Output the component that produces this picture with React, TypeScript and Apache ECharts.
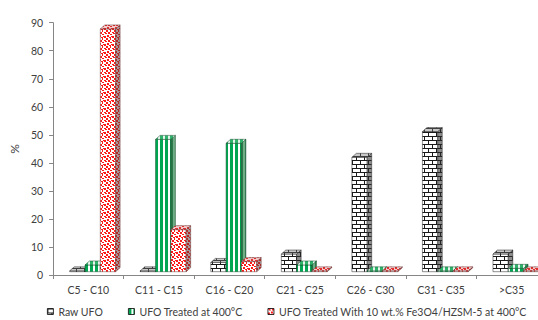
import React, { useEffect, useRef } from "react";
import * as echarts from "echarts";

// Carbon-number fractions (%)
const categories = ["C5 - C10", "C11 - C15", "C16 - C20", "C21 - C25", "C26 - C30", "C31 - C35", ">C35"];
const rawUfo = [0.3, 0.3, 3.3, 6.3, 40.8, 50.0, 6.3];
const ufo400 = [2.4, 47.2, 45.8, 2.4, 0.3, 0.3, 1.2];
const ufoFe3O4 = [86.6, 15.0, 3.6, 0.3, 0.3, 0.3, 0.3];
const seriesNames = [
  "Raw UFO",
  "UFO Treated at 400°C",
  "UFO Treated With 10 wt.% Fe3O4/HZSM-5 at 400°C",
];
const yMin = 0;
const yMax = 90;
const yStep = 10;

const FONT = "Lato, 'Liberation Sans', sans-serif";
const TEXT = "#404040";
const AXIS = "#868686";

type Tile = { image: HTMLCanvasElement; repeat: "repeat"; imageWidth: number; imageHeight: number };

function tile(w: number, h: number, draw: (c: CanvasRenderingContext2D) => void): Tile {
  const cv = document.createElement("canvas");
  cv.width = w;
  cv.height = h;
  const ctx = cv.getContext("2d") as CanvasRenderingContext2D;
  draw(ctx);
  return { image: cv, repeat: "repeat", imageWidth: w, imageHeight: h };
}

function brick(bg: string, line: string) {
  return tile(8, 8, (c) => {
    c.fillStyle = bg;
    c.fillRect(0, 0, 8, 8);
    c.fillStyle = line;
    c.fillRect(0, 0, 8, 1);
    c.fillRect(0, 4, 8, 1);
    c.fillRect(0, 0, 1, 4);
    c.fillRect(4, 4, 1, 4);
  });
}

function stripes(main: string, light: string) {
  return tile(5, 2, (c) => {
    c.fillStyle = main;
    c.fillRect(0, 0, 5, 2);
    c.fillStyle = light;
    c.fillRect(3, 0, 2, 2);
  });
}

// Blotchy dot fill
const dotCells: [number, number, number, number][] = [
  [0, 0, 2, 1], [1, 1, 2, 1], [4, 0, 2, 2], [6, 2, 2, 1], [3, 3, 2, 2],
  [0, 4, 2, 2], [5, 5, 2, 1], [6, 6, 1, 2], [2, 6, 2, 2], [7, 4, 1, 1],
];
function dots(bg: string, fg: string) {
  return tile(8, 8, (c) => {
    c.fillStyle = bg;
    c.fillRect(0, 0, 8, 8);
    c.fillStyle = fg;
    dotCells.forEach(([x, y, w, h]) => c.fillRect(x, y, w, h));
  });
}

export default function App() {
  const ref = useRef<HTMLDivElement>(null);

  useEffect(() => {
    if (!ref.current) return;
    const chart = echarts.init(ref.current, null, { renderer: "svg" });

    const faces = [
      {
        front: brick("#ffffff", "#1a1a1a"),
        side: brick("#8c8c8c", "#262626"),
        top: brick("#c8c8c8", "#404040"),
        edge: "#222222",
      },
      {
        front: stripes("#00a651", "#ffffff"),
        side: stripes("#2f7a4c", "#6fae86"),
        top: stripes("#2fb36a", "#e6f5ec"),
        edge: "#124a2a",
      },
      {
        front: dots("#ffffff", "#ff1a1a"),
        side: dots("#a89a9a", "#b02a2a"),
        top: dots("#f3c9c9", "#e03030"),
        edge: "#6a3a3a",
      },
    ];
    const values = [rawUfo, ufo400, ufoFe3O4];

    const BW = 15.3; // front face width
    const DX = 4.5; // depth offset, right
    const DY = 4; // depth offset, up
    const SHIFT_X = 4.3;
    const SHIFT_Y = 3.3;

    const makeRender = (si: number) => (params: any, api: any) => {
      const idx = api.value(0);
      const v = api.value(1);
      const base = api.coord([idx, 0]);
      const top = api.coord([idx, v]);
      const cx = base[0];
      const x = cx - 1.5 * BW + SHIFT_X + si * BW;
      const yb = base[1] - SHIFT_Y;
      const yt = top[1] - SHIFT_Y;
      const f = faces[si];
      const stroke = { stroke: f.edge, lineWidth: 0.5 };
      return {
        type: "group",
        children: [
          {
            type: "rect",
            shape: { x, y: yt, width: BW, height: yb - yt },
            style: { fill: f.front, ...stroke },
          },
          {
            type: "polygon",
            shape: {
              points: [
                [x + BW, yt],
                [x + BW + DX, yt - DY],
                [x + BW + DX, yb - DY],
                [x + BW, yb],
              ],
            },
            style: { fill: f.side, ...stroke },
          },
          {
            type: "polygon",
            shape: {
              points: [
                [x, yt],
                [x + DX, yt - DY],
                [x + BW + DX, yt - DY],
                [x + BW, yt],
              ],
            },
            style: { fill: f.top, ...stroke },
          },
        ],
      };
    };

    chart.setOption({
      animation: false,
      backgroundColor: "#ffffff",
      grid: { left: 52, right: 13.1, top: 22.7, bottom: 45, containLabel: false },
      legend: {
        data: seriesNames,
        left: 47,
        top: 306,
        padding: 0,
        icon: "rect",
        itemWidth: 6,
        itemHeight: 6,
        itemGap: 25,
        itemStyle: { borderColor: "#000000", borderWidth: 0.8 },
        textStyle: { fontFamily: FONT, fontSize: 10.5, color: TEXT },
      },
      xAxis: {
        type: "category",
        data: categories,
        boundaryGap: true,
        axisLine: { show: true, lineStyle: { color: AXIS, width: 1 } },
        axisTick: { show: true, length: 4, interval: 0, lineStyle: { color: AXIS } },
        axisLabel: { interval: 0, margin: 9, fontFamily: FONT, fontSize: 10.5, color: TEXT },
        splitLine: { show: false },
      },
      yAxis: {
        type: "value",
        min: yMin,
        max: yMax,
        interval: yStep,
        name: "%",
        nameLocation: "middle",
        nameGap: 31,
        nameRotate: 90,
        nameTextStyle: { fontFamily: FONT, fontSize: 12, color: TEXT },
        axisLine: { show: true, lineStyle: { color: AXIS, width: 1 } },
        axisTick: { show: true, length: 4, lineStyle: { color: AXIS } },
        axisLabel: { margin: 10, fontFamily: FONT, fontSize: 10.5, color: TEXT },
        splitLine: { show: false },
      },
      series: seriesNames.map((name, si) => ({
        type: "custom",
        name,
        itemStyle: { color: faces[si].front },
        encode: { x: 0, y: 1 },
        data: values[si].map((v, i) => [i, v]),
        renderItem: makeRender(si),
      })),
    });

    return () => chart.dispose();
  }, []);

  return (
    <div
      style={{
        position: "fixed",
        left: 0,
        top: 0,
        width: 538,
        height: 320,
        overflow: "hidden",
        background: "#ffffff",
      }}
    >
      <div ref={ref} style={{ width: 560, height: 320 }} />
    </div>
  );
}
